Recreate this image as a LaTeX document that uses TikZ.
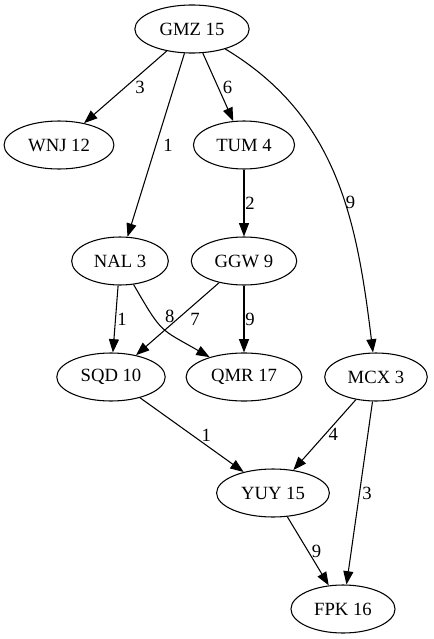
\documentclass[tikz,border=0pt]{standalone}
\usepackage{fontspec}
\setmainfont{Liberation Serif}
\usetikzlibrary{arrows.meta,shapes.geometric}
\tikzset{
  vertex/.style={draw, ellipse, line width=0.8pt, inner xsep=6pt, inner ysep=0pt,
    minimum height=36pt, font=\fontsize{14pt}{16pt}\selectfont},
  weight/.style={right, inner sep=1pt, font=\fontsize{14pt}{16pt}\selectfont},
  link/.style={-{Triangle[length=10pt,width=7.5pt]}, line width=0.8pt},
}
\begin{document}
\begin{tikzpicture}[x=0.75pt, y=-0.75pt]
\useasboundingbox (0,0) rectangle (433,639);
% vertices with their values
\foreach \name/\x/\y/\val in {GMZ/192/29/15, WNJ/59/145/12, TUM/244/145/4,
    NAL/120/261/3, GGW/244/261/9, SQD/111/377/10, QMR/244/377/17,
    MCX/376/377/3, YUY/273/493/15, FPK/343/609/16}
  \node[vertex] (\name) at (\x,\y) {\name{} \val};
% straight weighted edges, gap = shift of the weight
\foreach \from/\to/\w/\gap in {GMZ/WNJ/3/8, GMZ/TUM/6/3, GMZ/NAL/1/5.5,
    TUM/GGW/2/-0.5, NAL/SQD/1/0, GGW/SQD/7/11, GGW/QMR/9/-0.5,
    SQD/YUY/1/8, MCX/YUY/4/2, MCX/FPK/3/1, YUY/FPK/9/2}
  \draw[link] (\from) -- node[weight, xshift=\gap*0.75pt] {\w} (\to);
% the two bent ones
\draw[link] (GMZ) to[out=-31, in=97] node[weight, pos=0.58, xshift=-0.5pt] {9} (MCX);
\draw[link] (NAL) to[out=-60, in=150, looseness=1.4] node[weight, pos=0.3, xshift=7.5pt] {8} (QMR);
\end{tikzpicture}
\end{document}
